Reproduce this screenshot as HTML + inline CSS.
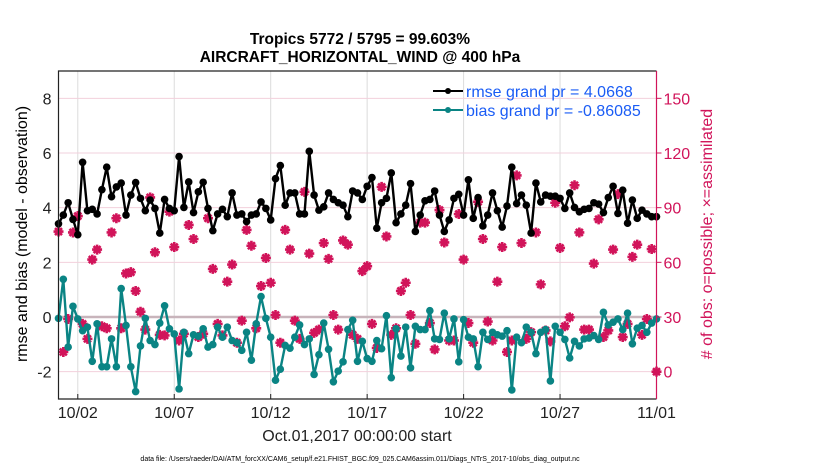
<!DOCTYPE html>
<html><head><meta charset="utf-8">
<style>
html,body{margin:0;padding:0;background:#fff;}
svg{display:block;font-family:"Liberation Sans",Arial,sans-serif;}
</style></head>
<body>
<svg id="chart" width="830" height="470" viewBox="0 0 830 470" xmlns="http://www.w3.org/2000/svg">
<text x="360" y="44" font-size="15.5" font-weight="bold" text-anchor="middle">Tropics 5772 / 5795 = 99.603%</text>
<text x="360" y="62" font-size="15.5" font-weight="bold" text-anchor="middle">AIRCRAFT_HORIZONTAL_WIND @ 400 hPa</text>
<g id="grid"></g>
<g id="series"></g>
<g id="axes"></g>
<text transform="translate(27,234) rotate(-90)" font-size="16" text-anchor="middle">rmse and bias (model - observation)</text>
<text transform="translate(712,234) rotate(-90)" font-size="16" text-anchor="middle" fill="#d1145a"># of obs: o=possible; ×=assimilated</text>
<text x="357" y="441" font-size="16" text-anchor="middle" fill="#222">Oct.01,2017 00:00:00 start</text>
<text x="360" y="461" font-size="7" text-anchor="middle">data file: /Users/raeder/DAI/ATM_forcXX/CAM6_setup/f.e21.FHIST_BGC.f09_025.CAM6assim.011/Diags_NTrS_2017-10/obs_diag_output.nc</text>
<g>
  <line x1="433" y1="91" x2="463" y2="91" stroke="#000" stroke-width="2"/>
  <circle cx="448" cy="91" r="3" fill="#000"/>
  <text x="466" y="97" font-size="16" fill="#1a5cf5">rmse grand pr = 4.0668</text>
  <line x1="433" y1="110" x2="463" y2="110" stroke="#0a8484" stroke-width="2"/>
  <circle cx="448" cy="110" r="3" fill="#0a8484"/>
  <text x="466" y="116" font-size="16" fill="#1a5cf5">bias grand pr = -0.86085</text>
</g>
</svg>
<script>
const xTickLabels = ["10/02","10/07","10/12","10/17","10/22","10/27","11/01"];
const xTickDays = [1,6,11,16,21,26,31];
const leftTicks = [-2,0,2,4,6,8];
const rightTicks = [0,30,60,90,120,150];
const rmse = [3.41,3.73,4.18,3.57,3.01,5.66,3.89,3.94,3.77,4.66,5.48,4.40,4.76,4.90,3.73,4.46,4.92,4.34,3.89,4.28,3.97,3.07,4.30,3.97,3.89,5.87,4.01,4.94,3.82,4.58,4.93,3.97,3.16,3.77,3.94,3.67,4.54,3.73,3.77,3.49,3.73,3.77,4.21,3.97,
3.55,5.06,5.54,4.09,4.54,4.54,3.77,3.77,6.06,4.46,3.91,4.03,4.54,4.30,4.18,4.09,3.67,4.61,4.54,4.30,4.78,5.10,3.25,4.18,4.34,5.27,3.45,3.77,4.09,4.88,3.13,3.73,4.25,4.30,4.61,3.73,3.13,3.55,4.34,4.49,
3.73,5.02,3.61,4.37,3.33,3.73,4.54,3.89,3.29,4.06,5.48,4.15,4.46,4.09,3.07,4.90,4.21,4.46,4.42,4.42,4.34,3.97,4.54,4.01,3.85,3.94,3.97,4.18,4.13,3.82,4.37,4.78,3.79,4.64,3.43,4.28,3.61,3.91,3.77,3.67,3.67];
const bias = [-0.05,1.38,-1.10,0.39,-0.07,-0.50,-0.37,-1.62,-0.25,-1.82,-1.82,-0.80,-1.82,1.04,-0.31,-1.82,-2.73,-1.06,-0.05,-0.86,-1.01,-0.22,0.41,-0.43,-0.62,-2.63,-0.56,-1.34,-0.65,-0.70,-0.43,-1.10,-1.01,-0.37,-0.74,-0.37,-0.86,-0.94,-1.22,-0.56,-1.58,-0.25,0.75,-0.05,
-0.74,-2.31,-1.91,-1.04,-1.14,-0.74,-0.29,-1.01,-0.80,-2.10,-1.38,-0.22,-1.18,-2.37,-1.98,-1.64,-0.46,-0.12,-1.62,-0.89,-1.52,-1.62,-0.86,-1.16,0.05,-2.22,-0.43,-1.43,-0.37,-1.86,-0.34,-0.46,-0.46,0.23,-0.80,-0.82,0.14,-0.80,-0.07,-1.64,
-0.10,-0.74,-0.80,-1.82,-0.56,-0.82,-0.56,-0.65,-0.70,-0.50,-2.67,-0.74,-0.94,-0.37,-0.56,-1.34,-0.56,-0.46,-2.34,-0.34,-0.56,-0.82,-1.50,-0.89,-1.06,-0.80,-0.77,-0.68,-0.82,0.17,-0.29,-0.19,-0.07,-0.46,0.14,-0.98,-0.41,-0.31,-0.56,-0.22,-0.07];
const nobs = [76.9,10.8,28.9,76.4,85.4,26.2,18.0,61.5,67.0,24.9,23.8,76.4,84.2,23.8,53.9,54.6,44.3,32.9,23.1,95.6,65.5,20.2,19.9,87.8,68.4,17.1,20.8,80.5,72.8,19.0,20.8,84.2,56.4,26.2,19.9,49.4,58.8,15.9,28.0,77.8,69.1,23.8,47.0,62.4,
48.8,31.1,15.9,77.8,67.0,28.0,18.0,98.7,64.8,21.3,23.1,70.6,61.9,31.1,23.1,72.0,69.7,20.2,18.0,55.2,57.9,26.2,13.0,101.4,74.2,20.2,23.8,44.3,48.8,31.1,15.3,81.8,81.8,26.7,12.2,88.7,70.9,17.1,17.1,86.5,61.5,
26.7,15.9,93.2,72.8,27.5,17.1,49.4,68.4,10.8,17.1,107.7,70.6,18.0,21.7,76.4,47.9,22.6,16.6,92.7,67.9,24.9,29.8,102.3,76.4,23.1,23.1,59.3,83.6,19.0,22.6,67.0,97.4,19.0,26.2,63.0,69.7,20.2,28.9,67.3,0];

const NS="http://www.w3.org/2000/svg";
const L=58.5,R=656.5,T=71,B=399;
const xDays=[0,31], yL=[-3,9], yR=[-15,165];
const xs=d=>L+(d-xDays[0])/(xDays[1]-xDays[0])*(R-L);
const yl=v=>B-(v-yL[0])/(yL[1]-yL[0])*(B-T);
const yr=v=>B-(v-yR[0])/(yR[1]-yR[0])*(B-T);
const dayOf=i=>i*0.25;
function mk(tag,attrs,parent){const e=document.createElementNS(NS,tag);for(const k in attrs)e.setAttribute(k,attrs[k]);parent.appendChild(e);return e;}
const grid=document.getElementById('grid'),axes=document.getElementById('axes'),ser=document.getElementById('series');
const PINK="#d1145a";
xTickDays.forEach((d,i)=>{
  const g=mk('line',{x1:xs(d),x2:xs(d),y1:T,y2:B,stroke:'#dcdcdc','stroke-width':1},grid);
  
  
  mk('line',{x1:xs(d),x2:xs(d),y1:B,y2:B-5,stroke:'#222','stroke-width':1},axes);
  const t=mk('text',{x:xs(d),y:B+19,'font-size':16,'text-anchor':'middle',fill:'#222'},axes);
  t.textContent=xTickLabels[i];
  
  
});
rightTicks.forEach(v=>{
  const g=mk('line',{x1:L,x2:R,y1:yr(v),y2:yr(v),stroke:'#f2d0dc','stroke-width':1},grid);
  
  
  mk('line',{x1:R,x2:R+5,y1:yr(v),y2:yr(v),stroke:PINK,'stroke-width':1},axes);
  const t=mk('text',{x:R+7,y:yr(v)+6,'font-size':16,fill:PINK},axes);
  t.textContent=v;
  
  
});
leftTicks.forEach(v=>{
  const t=mk('text',{x:L-7,y:yl(v)+6,'font-size':16,'text-anchor':'end',fill:'#222'},axes);
  t.textContent=v;
  
  
});
const zl=mk('line',{x1:L,x2:R,y1:yl(0),y2:yl(0),stroke:'#c8b4bb','stroke-width':2.5},grid);


mk('path',{d:`M${R},${T} L${L},${T} L${L},${B} L${R},${B}`,fill:'none',stroke:'#222','stroke-width':1.2},axes);
mk('line',{x1:R,x2:R,y1:T,y2:B,stroke:PINK,'stroke-width':1.2},axes);

nobs.forEach((v,i)=>{
  const x=xs(dayOf(i)),y=yr(v);
  const m=mk('path',{d:`M${x-5},${y} L${x+5},${y} M${x},${y-5} L${x},${y+5} M${x-3.5},${y-3.5} L${x+3.5},${y+3.5} M${x-3.5},${y+3.5} L${x+3.5},${y-3.5}`,stroke:PINK,'stroke-width':2.6,fill:'none'},ser);
  
  
});
function line(vals,col,name){
  const d=vals.map((v,i)=>(i?'L':'M')+xs(dayOf(i)).toFixed(1)+','+yl(v).toFixed(1)).join(' ');
  const p=mk('path',{d:d,fill:'none',stroke:col,'stroke-width':2.4,'stroke-linejoin':'round'},ser);
  
  
  vals.forEach((v,i)=>{
    const c=mk('circle',{cx:xs(dayOf(i)),cy:yl(v),r:3.8,fill:col},ser);
    
    
  });
}
line(rmse,'#000','rmse');
line(bias,'#0a8484','bias');
</script>
</body></html>
